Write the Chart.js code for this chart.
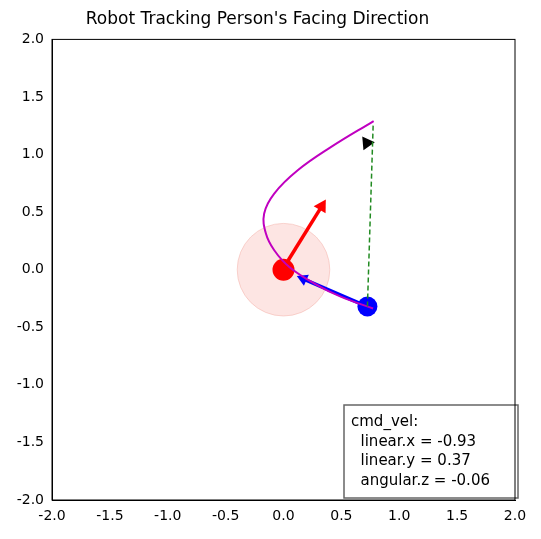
<!DOCTYPE html><html><head><script src="https://cdn.jsdelivr.net/npm/chart.js"></script>
<style>body{margin:0;background:#fff}</style></head><body><canvas id="c" width="541" height="539"></canvas>
<script>
const pathX=[0.779,0.412,0.123,-0.08,-0.167,-0.152,-0.08,0.05,0.267,0.499,0.774];
const pathY=[1.291,1.066,0.863,0.661,0.488,0.314,0.169,0.024,-0.12,-0.236,-0.337];
const robot=[0,0];
const person=[0.725,-0.32];
const robotArrow=[[0.04,0.08],[0.33,0.55]];
const personArrow=[[0.70,-0.31],[0.17,-0.08]];
const sightLine=[[0.725,-0.32],[0.775,1.27]];
const cursor=[0.72,1.1];
const zoneRadius=0.4;
const cmdLines=["cmd_vel:","  linear.x = -0.93","  linear.y = 0.37","  angular.z = -0.06"];
const ticks=[-2,-1.5,-1,-0.5,0,0.5,1,1.5,2];
const F="'DejaVu Sans'";
const pts=(a)=>a.map(p=>({x:p[0],y:p[1]}));
const boxPlugin={id:'box',afterDraw(ch){const c=ch.ctx;c.save();c.fillStyle='rgba(255,255,255,0.85)';c.strokeStyle='#666';c.lineWidth=1.5;
c.fillRect(344,405,174,93);c.strokeRect(344,405,174,93);c.fillStyle='#000';c.font='15px '+F;c.textBaseline='alphabetic';
cmdLines.forEach((t,i)=>c.fillText(t,351,426+i*19.5));c.restore();}};
const zonePlugin={id:'zone',beforeDatasetsDraw(ch){const s=ch.scales,c=ch.ctx;const cx=s.x.getPixelForValue(robot[0]),cy=s.y.getPixelForValue(robot[1]);
const r=s.x.getPixelForValue(zoneRadius)-s.x.getPixelForValue(0);c.save();c.beginPath();c.arc(cx,cy,r,0,Math.PI*2);c.fillStyle='rgba(250,180,175,0.35)';c.fill();c.strokeStyle='rgba(240,160,150,0.4)';c.stroke();c.restore();}};
new Chart(document.getElementById('c'),{type:'scatter',data:{datasets:[
{data:pts(sightLine),showLine:true,borderColor:'#228b22',borderDash:[5,3],borderWidth:1.5,pointRadius:0},
{data:pathX.map((x,i)=>({x,y:pathY[i]})),showLine:true,borderColor:'#c000c0',borderWidth:2,pointRadius:0,tension:0.4},
{data:pts(robotArrow),showLine:true,borderColor:'#ff0000',borderWidth:3.5,pointRadius:[0,8],pointStyle:'triangle',pointRotation:31,backgroundColor:'#ff0000',pointBorderWidth:0},
{data:pts(personArrow),showLine:true,borderColor:'#0000ff',borderWidth:3.5,pointRadius:[0,7],pointStyle:'triangle',pointRotation:-66,backgroundColor:'#0000ff',pointBorderWidth:0},
{data:[{x:robot[0],y:robot[1]}],pointRadius:11,backgroundColor:'#ff0000',borderWidth:0},
{data:[{x:person[0],y:person[1]}],pointRadius:10,backgroundColor:'#0000ff',borderWidth:0},
{data:[{x:person[0]+0.05,y:person[1]-0.02},{x:pathX[10],y:pathY[10]}],showLine:true,borderColor:'#c000c0',borderWidth:2,pointRadius:0},
{data:[{x:cursor[0],y:cursor[1]}],pointStyle:'triangle',pointRotation:-35,pointRadius:8,backgroundColor:'#000',borderWidth:0}
]},options:{responsive:false,animation:false,layout:{padding:{left:0,right:26,top:0,bottom:0}},
plugins:{legend:{display:false},tooltip:{enabled:false},title:{display:true,text:"Robot Tracking Person's Facing Direction",font:{family:F,size:17,weight:'normal'},color:'#000',padding:{top:9,bottom:10}}},
scales:{x:{min:-2,max:2,afterBuildTicks:a=>{a.ticks=ticks.map(v=>({value:v}))},afterFit:a=>{a.height=39},grid:{display:false,drawTicks:true,tickLength:5},border:{color:'#000',width:1},ticks:{color:'#000',font:{family:F,size:14},callback:v=>v.toFixed(1),maxRotation:0}},
y:{min:-2,max:2,afterBuildTicks:a=>{a.ticks=ticks.map(v=>({value:v}))},afterFit:a=>{a.width=52},grid:{display:false,tickLength:5},border:{color:'#000',width:1},ticks:{color:'#000',font:{family:F,size:14},callback:v=>v.toFixed(1)}}}},
plugins:[zonePlugin,boxPlugin,{id:'frame',afterDraw(ch){const a=ch.chartArea,c=ch.ctx;c.save();c.strokeStyle='#000';c.lineWidth=1;c.strokeRect(a.left,a.top,a.right-a.left,a.bottom-a.top);c.restore();}}]});
</script></body></html>
